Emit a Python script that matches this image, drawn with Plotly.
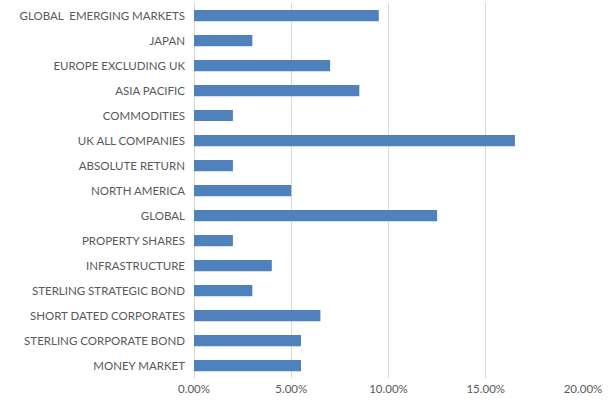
import plotly.graph_objects as go

categories = ["GLOBAL  EMERGING MARKETS", "JAPAN", "EUROPE EXCLUDING UK", "ASIA PACIFIC",
              "COMMODITIES", "UK ALL COMPANIES", "ABSOLUTE RETURN", "NORTH AMERICA",
              "GLOBAL", "PROPERTY SHARES", "INFRASTRUCTURE", "STERLING STRATEGIC BOND",
              "SHORT DATED CORPORATES", "STERLING CORPORATE BOND", "MONEY MARKET"]
values = [0.095, 0.03, 0.07, 0.085, 0.02, 0.165, 0.02, 0.05, 0.125, 0.02, 0.04, 0.03,
          0.065, 0.055, 0.055]
tick_vals = [0, 0.05, 0.10, 0.15, 0.20]
tick_text = ["0.00%", "5.00%", "10.00%", "15.00%", "20.00%"]

fig = go.Figure(go.Bar(
    y=categories, x=values, orientation="h",
    marker=dict(color="#4F81BD", line=dict(width=0)),
    width=0.45,
))
fig.update_layout(
    width=616, height=400,
    margin=dict(l=194, r=33, t=3, b=22, autoexpand=False),
    paper_bgcolor="white", plot_bgcolor="white",
    font=dict(family="Lato, sans-serif", size=11.5, color="#595959"),
    showlegend=False,
    bargap=0.55,
)
fig.update_xaxes(range=[0, 0.20], tickvals=tick_vals, ticktext=tick_text,
                 showgrid=True, gridcolor="#D9D9D9", gridwidth=1,
                 zeroline=True, zerolinecolor="#D9D9D9", zerolinewidth=1,
                 showline=False, ticks="", tickfont=dict(size=11.5),
                 automargin=False, ticklabelstandoff=2)
fig.update_yaxes(autorange="reversed", showgrid=False, showline=False, ticks="",
                 ticklabelstandoff=8, tickfont=dict(size=11.5), automargin=False)
fig.write_html("out.html", config={"displayModeBar": False},
               post_script="document.body.style.margin='0';document.body.style.overflow='hidden';")
